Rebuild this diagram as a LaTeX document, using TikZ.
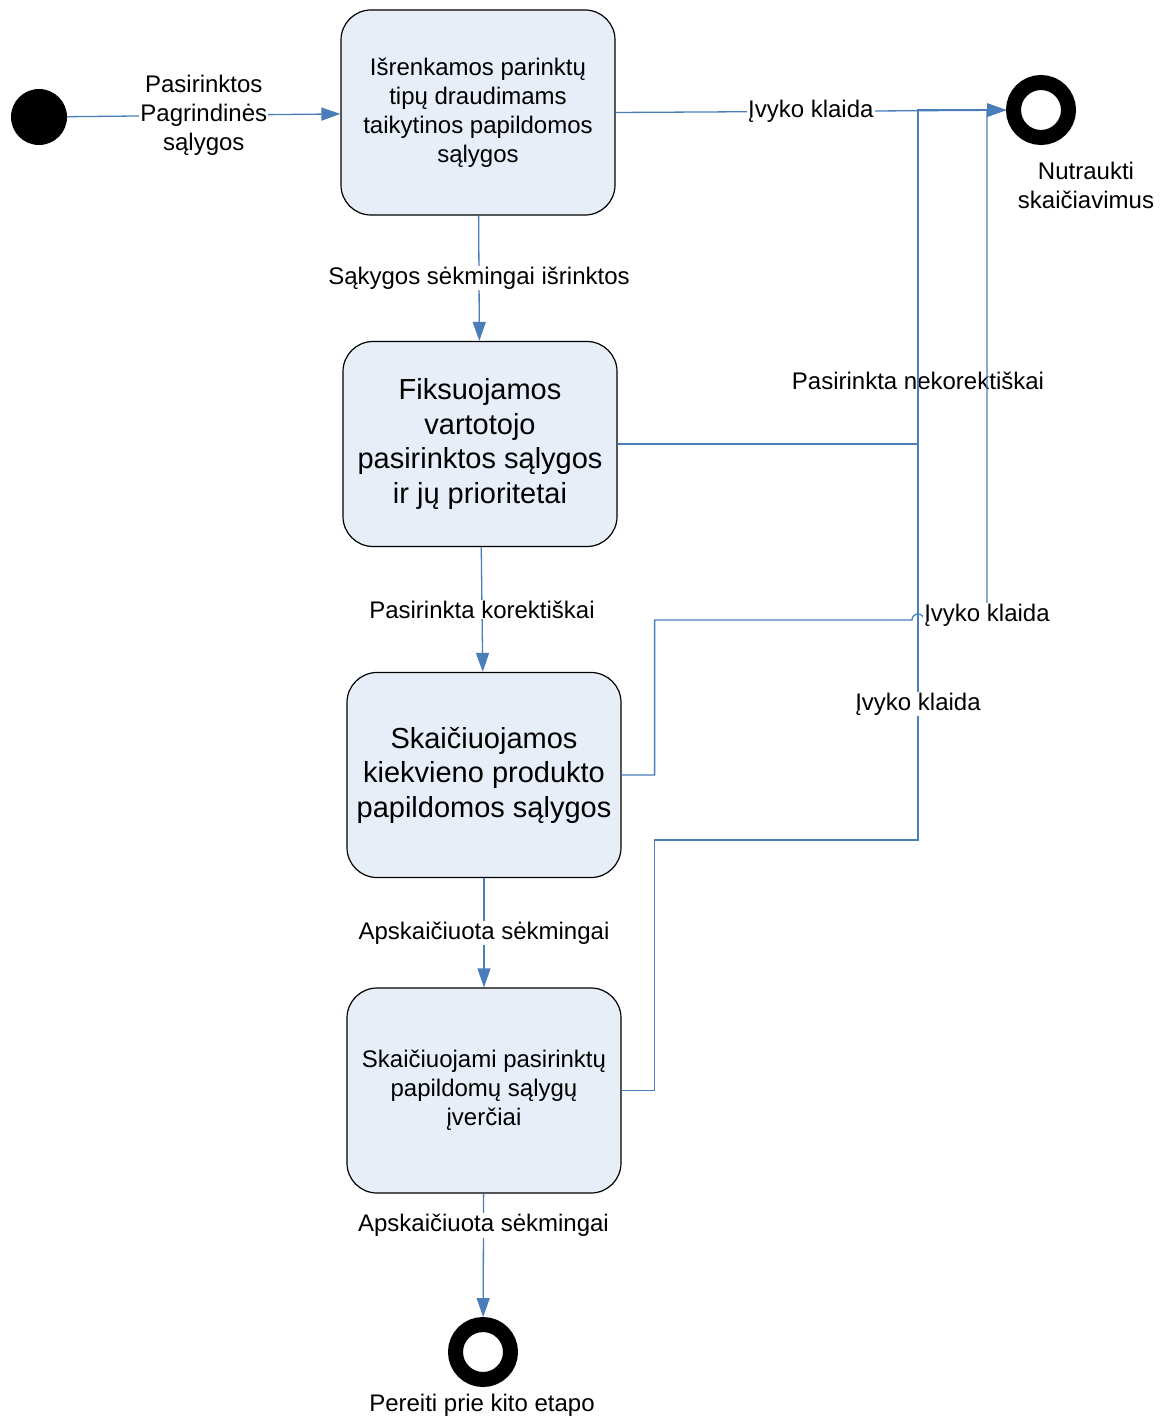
\documentclass[tikz,border=0pt]{standalone}
\usepackage{fontspec}
\setmainfont{Liberation Sans}
\usetikzlibrary{arrows.meta,positioning,calc}
\definecolor{linkblue}{HTML}{4A7EBB}
\definecolor{statefill}{HTML}{E8EEF8}

\begin{document}
\begin{tikzpicture}[x=1pt,y=-1pt,
		every node/.style={font=\fontsize{24}{29}\selectfont},
		state/.style={draw=black, line width=1.2pt, fill=statefill, rounded corners=30pt, minimum width=274pt, minimum height=205pt, align=center},
		bigstate/.style={state, font=\fontsize{29}{34.5}\selectfont},
		link/.style={draw=linkblue, line width=1.3pt, -{Triangle[length=19pt,width=13pt]}},
		lbl/.style={fill=white, inner sep=1pt, align=center}]
		\useasboundingbox (0,0) rectangle (1164,1421);
		% states
		\node[state] (select) at (478,112.5) {Išrenkamos parinktų\\tipų draudimams\\taikytinos papildomos\\sąlygos};
		\node[bigstate] (fix) at (480,444) {Fiksuojamos\\vartotojo\\pasirinktos sąlygos\\ir jų prioritetai};
		\node[bigstate] (calc) at (484,775) {Skaičiuojamos\\kiekvieno produkto\\papildomos sąlygos};
		\node[state] (rate) at (484,1090.5) {Skaičiuojami pasirinktų\\papildomų sąlygų\\įverčiai};
		% start and end points
		\node[circle, fill=black, minimum size=56pt, inner sep=0pt] (start) at (39,117) {};
		\node[circle, draw=black, line width=15pt, minimum size=55pt, inner sep=0pt] (abort) at (1041,110) {};
		\node[circle, draw=black, line width=15pt, minimum size=55pt, inner sep=0pt] (next) at (483,1352) {};
		\node[align=center] (abortlbl) at (1086,185) {Nutraukti\\skaičiavimus};
		\node (nextlbl) at (482,1405) {Pereiti prie kito etapo};
		\coordinate (abortin) at (918,110);
		% main flow
		\draw[link] (start) -- node[lbl]{Pasirinktos\\Pagrindinės\\sąlygos} (select);
		\draw[link] (select) -- node[lbl]{Sąkygos sėkmingai išrinktos} (fix);
		\draw[link] (fix) -- node[lbl]{Pasirinkta korektiškai} (calc);
		\draw[link] (calc) -- node[lbl]{Apskaičiuota sėkmingai} (rate);
		\draw[link] (rate) -- node[lbl, pos=0.26]{Apskaičiuota sėkmingai} (next);
		% errors
		\draw[link] (select.east) -- node[lbl]{Įvyko klaida} (abort);
		\draw[link] (fix.east) -| node[lbl, pos=0.595]{Pasirinkta nekorektiškai} (abortin) -- (abort.west);
		\draw[link] (rate.east) -- ++(33,0) |- (918,840) -- node[lbl, pos=0.186]{Įvyko klaida} (abortin) -- (abort.west);
		\draw[link] (calc.east) -- ++(33,0) |- (912,620) arc[start angle=180, end angle=360, radius=6] -| node[lbl, pos=0.5, yshift=5pt]{Įvyko klaida} (987,110) -- (abort.west);
\end{tikzpicture}
\end{document}
